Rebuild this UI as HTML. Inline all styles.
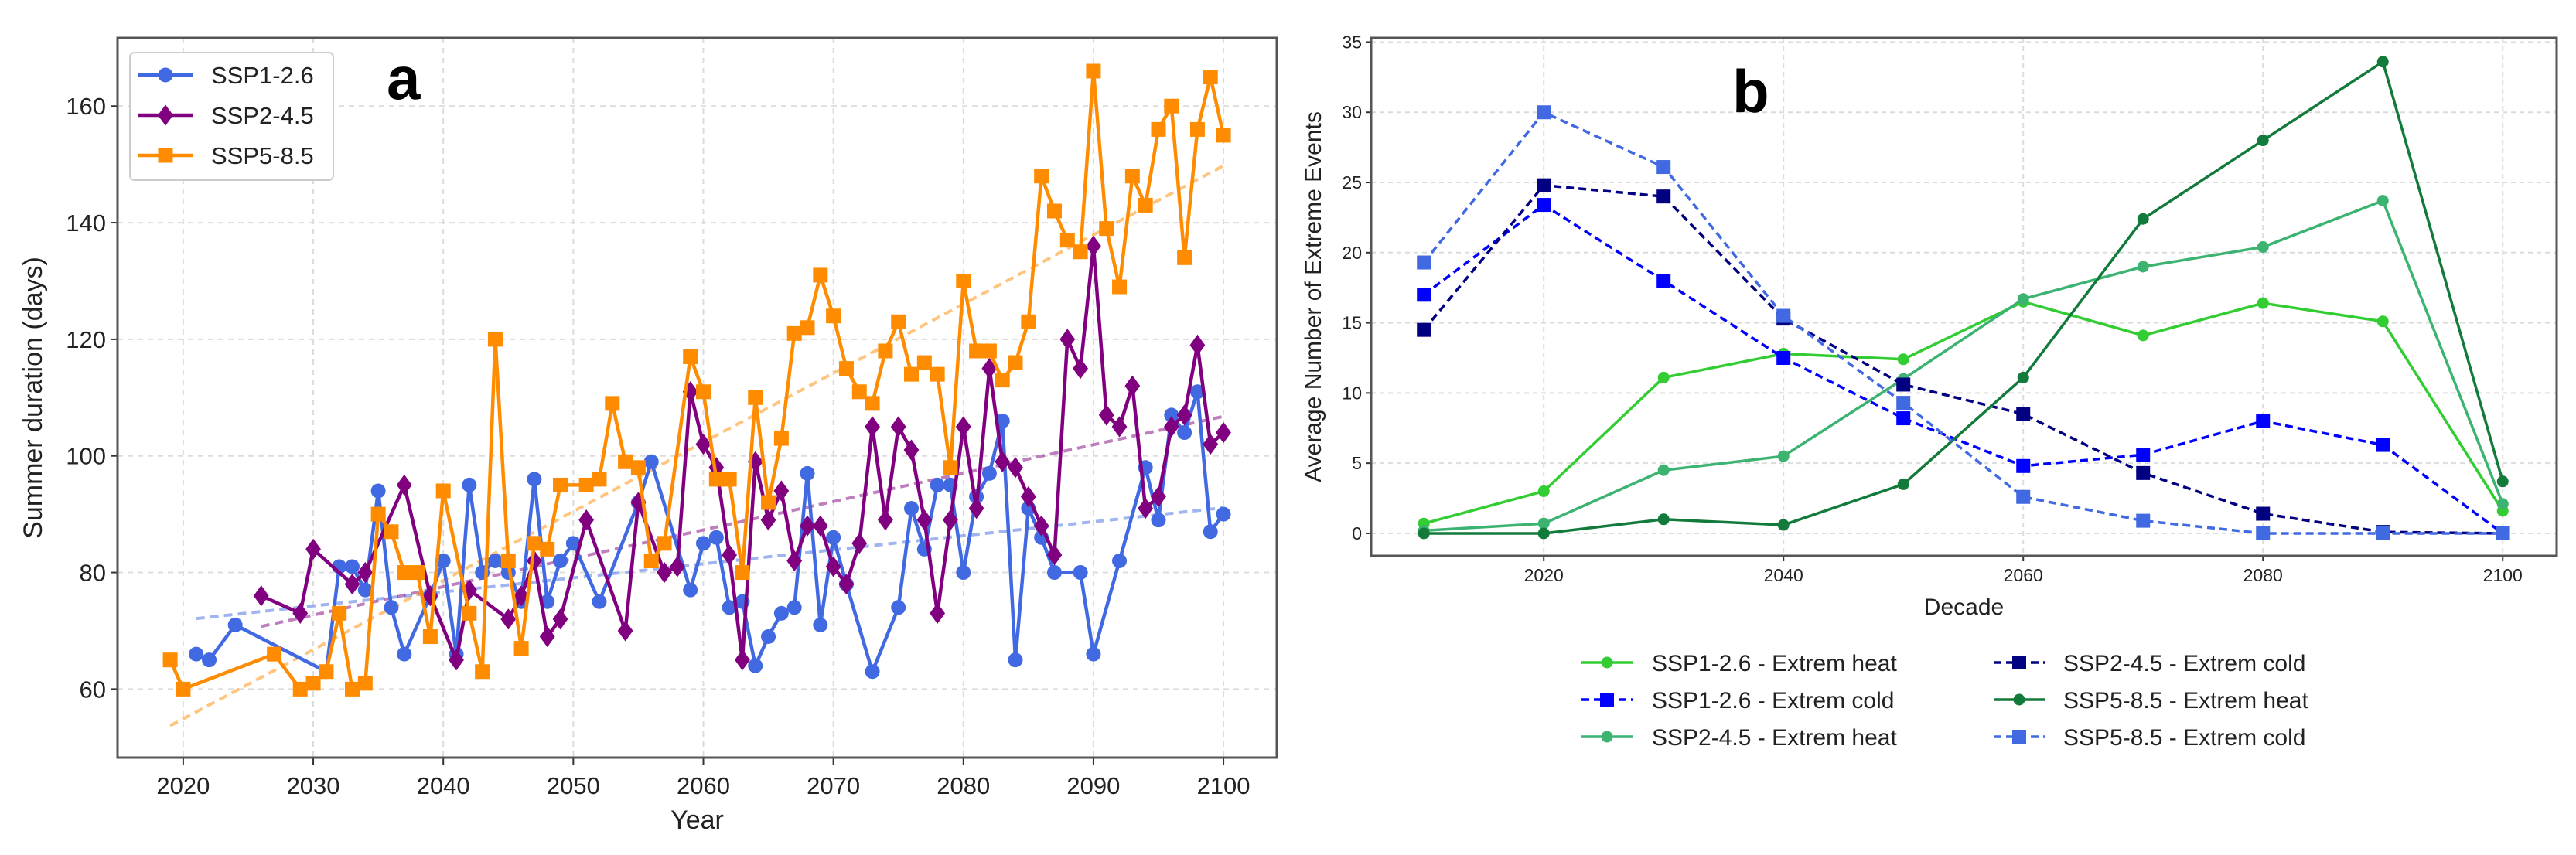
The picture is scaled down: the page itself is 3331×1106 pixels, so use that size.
<!DOCTYPE html>
<html><head><meta charset="utf-8">
<style>
html,body{margin:0;padding:0;background:#fff;}
svg{display:block;font-family:"Liberation Sans","DejaVu Sans",sans-serif;}
</style></head>
<body>
<svg id="fig" width="3331" height="1106" viewBox="0 0 3331 1106" xmlns="http://www.w3.org/2000/svg">
<rect width="3331" height="1106" fill="#fff"/>
<g id="pa"></g>
<g id="pb"></g>
</svg>
<script>
// ---------- Panel A data ----------
const aTicksX = [2020,2030,2040,2050,2060,2070,2080,2090,2100];
const aTicksY = [60,80,100,120,140,160];
const ssp126Years = [2021,2022,2024,2031,2032,2033,2034,2035,2036,2037,2039,2040,2041,2042,2043,2044,2045,2046,2047,2048,2049,2050,2052,2055,2056,2059,2060,2061,2062,2063,2064,2065,2066,2067,2068,2069,2070,2071,2073,2075,2076,2077,2078,2079,2080,2081,2082,2083,2084,2085,2086,2087,2089,2090,2092,2094,2095,2096,2097,2098,2099,2100];
const ssp126Vals = [66,65,71,63,81,81,77,94,74,66,76,82,66,95,80,82,80,75,96,75,82,85,75,92,99,77,85,86,74,75,64,69,73,74,97,71,86,78,63,74,91,84,95,95,80,93,97,106,65,91,86,80,80,66,82,98,89,107,104,111,87,90];
const ssp245Years = [2026,2029,2030,2033,2034,2037,2039,2041,2042,2045,2046,2047,2048,2049,2051,2054,2055,2057,2058,2059,2060,2061,2062,2063,2064,2065,2066,2067,2068,2069,2070,2071,2072,2073,2074,2075,2076,2077,2078,2079,2080,2081,2082,2083,2084,2085,2086,2087,2088,2089,2090,2091,2092,2093,2094,2095,2096,2097,2098,2099,2100];
const ssp245Vals = [76,73,84,78,80,95,76,65,77,72,76,82,69,72,89,70,92,80,81,111,102,98,83,65,99,89,94,82,88,88,81,78,85,105,89,105,101,89,73,89,105,91,115,99,98,93,88,83,120,115,136,107,105,112,91,93,105,107,119,102,104];
const ssp585Years = [2019,2020,2027,2029,2030,2031,2032,2033,2034,2035,2036,2037,2038,2039,2040,2042,2043,2044,2045,2046,2047,2048,2049,2051,2052,2053,2054,2055,2056,2057,2059,2060,2061,2062,2063,2064,2065,2066,2067,2068,2069,2070,2071,2072,2073,2074,2075,2076,2077,2078,2079,2080,2081,2082,2083,2084,2085,2086,2087,2088,2089,2090,2091,2092,2093,2094,2095,2096,2097,2098,2099,2100];
const ssp585Vals = [65,60,66,60,61,63,73,60,61,90,87,80,80,69,94,73,63,120,82,67,85,84,95,95,96,109,99,98,82,85,117,111,96,96,80,110,92,103,121,122,131,124,115,111,109,118,123,114,116,114,98,130,118,118,113,116,123,148,142,137,135,166,139,129,148,143,156,160,134,156,165,155];

// ---------- Panel B data ----------
const decades = [2010,2020,2030,2040,2050,2060,2070,2080,2090,2100];
const bTicksX = [2020,2040,2060,2080,2100];
const bTicksY = [0,5,10,15,20,25,30,35];
const s1Heat = [0.7,3,11.1,12.8,12.4,16.5,14.1,16.4,15.1,1.6];
const s1Cold = [17,23.4,18,12.5,8.2,4.8,5.6,8,6.3,0];
const s2Heat = [0.2,0.7,4.5,5.5,11,16.7,19,20.4,23.7,2.1];
const s2Cold = [14.5,24.8,24,15.3,10.6,8.5,4.3,1.4,0.1,0];
const s5Heat = [0,0,1,0.6,3.5,11.1,22.4,28,33.6,3.7];
const s5Cold = [19.3,30,26.1,15.5,9.3,2.6,0.9,0,0,0];

const NS='http://www.w3.org/2000/svg';
function mk(parent,tag,attrs,name,txt){
  const e=document.createElementNS(NS,tag);
  for(const k in attrs) e.setAttribute(k,attrs[k]);
  
  
  if(txt!==undefined) e.textContent=txt;
  parent.appendChild(e); return e;
}
function marker(g,shape,x,y,s,color,name){
  if(shape==='circle') return mk(g,'circle',{cx:x,cy:y,r:s/2,fill:color},name);
  if(shape==='square') return mk(g,'rect',{x:x-s/2,y:y-s/2,width:s,height:s,fill:color},name);
  if(shape==='diamond') return mk(g,'polygon',{points:`${x},${y-s*0.62} ${x+s*0.45},${y} ${x},${y+s*0.62} ${x-s*0.45},${y}`,fill:color},name);
}
function linreg(xs,ys){
  const n=xs.length; let mx=0,my=0; for(let i=0;i<n;i++){mx+=xs[i];my+=ys[i];} mx/=n;my/=n;
  let sxy=0,sxx=0; for(let i=0;i<n;i++){sxy+=(xs[i]-mx)*(ys[i]-my);sxx+=(xs[i]-mx)**2;}
  const b=sxy/sxx; return [b,my-b*mx];
}

// ---------- Panel A ----------
(function(){
  const g=document.getElementById('pa');
  const L=152,R=1651,T=49,B=980;
  const x0=2014.95,x1=2104.1,y0=48.25,y1=171.7;
  const X=v=>L+(v-x0)/(x1-x0)*(R-L);
  const Y=v=>B-(v-y0)/(y1-y0)*(B-T);
  aTicksX.forEach(t=>{
    mk(g,'line',{x1:X(t),x2:X(t),y1:T,y2:B,stroke:'#dcdcdc','stroke-width':2,'stroke-dasharray':'7 6'},'x-grid-line');
    mk(g,'line',{x1:X(t),x2:X(t),y1:B,y2:B+9,stroke:'#333','stroke-width':2},'x-tick');
    mk(g,'text',{x:X(t),y:B+47,'font-size':31,'text-anchor':'middle',fill:'#222'},'x-tick-label',t);
  });
  aTicksY.forEach(t=>{
    mk(g,'line',{x1:L,x2:R,y1:Y(t),y2:Y(t),stroke:'#dcdcdc','stroke-width':2,'stroke-dasharray':'7 6'},'y-grid-line');
    mk(g,'line',{x1:L-9,x2:L,y1:Y(t),y2:Y(t),stroke:'#333','stroke-width':2},'y-tick');
    mk(g,'text',{x:L-15,y:Y(t)+11,'font-size':31,'text-anchor':'end',fill:'#222'},'y-tick-label',t);
  });
  const series=[
    {n:'ssp1-2.6',xs:ssp126Years,ys:ssp126Vals,c:'#4169e1',m:'circle'},
    {n:'ssp2-4.5',xs:ssp245Years,ys:ssp245Vals,c:'#800080',m:'diamond'},
    {n:'ssp5-8.5',xs:ssp585Years,ys:ssp585Vals,c:'#ff8c00',m:'square'}];
  series.forEach(s=>{
    const [b,a]=linreg(s.xs,s.ys);
    const xa=s.xs[0],xb=s.xs[s.xs.length-1];
    mk(g,'line',{x1:X(xa),y1:Y(a+b*xa),x2:X(xb),y2:Y(a+b*xb),stroke:s.c,'stroke-opacity':0.5,'stroke-width':4,'stroke-dasharray':'11 7'},s.n+'-trend-line');
  });
  series.forEach(s=>{
    const sg=mk(g,'g',{},s.n+'-series');
    mk(sg,'polyline',{points:s.xs.map((v,i)=>X(v)+','+Y(s.ys[i])).join(' '),fill:'none',stroke:s.c,'stroke-width':4.5,'stroke-linejoin':'round'},s.n+'-line');
    s.xs.forEach((v,i)=>marker(sg,s.m,X(v),Y(s.ys[i]),s.m==='diamond'?22:19,s.c,s.n+'-point'));
  });
  mk(g,'rect',{x:L,y:T,width:R-L,height:B-T,fill:'none',stroke:'#555','stroke-width':3},'plot-frame');
  mk(g,'text',{x:(L+R)/2,y:1072,'font-size':34,'text-anchor':'middle',fill:'#222'},'x-axis-title','Year');
  mk(g,'text',{x:0,y:0,'font-size':34,'text-anchor':'middle',fill:'#222',transform:`translate(54,${(T+B)/2}) rotate(-90)`},'y-axis-title','Summer duration (days)');
  mk(g,'text',{x:500,y:128,'font-size':78,'font-weight':'bold',fill:'#000'},'panel-label-a','a');
  const lg=mk(g,'g',{},'legend');
  mk(lg,'rect',{x:168,y:68,width:263,height:165,rx:6,fill:'#fff',stroke:'#ccc','stroke-width':2},'legend-box');
  series.forEach((s,i)=>{
    const y=97+i*52;
    const eg=mk(lg,'g',{},'legend-entry');
    mk(eg,'line',{x1:179,x2:249,y1:y,y2:y,stroke:s.c,'stroke-width':4.5},'legend-line');
    marker(eg,s.m,214,y,s.m==='diamond'?22:19,s.c,'legend-marker');
    mk(eg,'text',{x:273,y:y+11,'font-size':31,fill:'#222'},'legend-label',s.n.toUpperCase());
  });
})();

// ---------- Panel B ----------
(function(){
  const g=document.getElementById('pb');
  const L=1773,R=3306,T=49,B=719;
  const x0=2005.6,x1=2104.5,y0=-1.6,y1=35.3;
  const X=v=>L+(v-x0)/(x1-x0)*(R-L);
  const Y=v=>B-(v-y0)/(y1-y0)*(B-T);
  bTicksX.forEach(t=>{
    mk(g,'line',{x1:X(t),x2:X(t),y1:T,y2:B,stroke:'#dcdcdc','stroke-width':2,'stroke-dasharray':'6 5'},'x-grid-line');
    mk(g,'line',{x1:X(t),x2:X(t),y1:B,y2:B+7,stroke:'#333','stroke-width':2},'x-tick');
    mk(g,'text',{x:X(t),y:B+33,'font-size':23,'text-anchor':'middle',fill:'#222'},'x-tick-label',t);
  });
  bTicksY.forEach(t=>{
    mk(g,'line',{x1:L,x2:R,y1:Y(t),y2:Y(t),stroke:'#dcdcdc','stroke-width':2,'stroke-dasharray':'6 5'},'y-grid-line');
    mk(g,'line',{x1:L-7,x2:L,y1:Y(t),y2:Y(t),stroke:'#333','stroke-width':2},'y-tick');
    mk(g,'text',{x:L-12,y:Y(t)+8,'font-size':23,'text-anchor':'end',fill:'#222'},'y-tick-label',t);
  });
  const series=[
    {n:'SSP1-2.6 - Extrem heat',ys:s1Heat,c:'#32cd32',m:'circle',d:null},
    {n:'SSP1-2.6 - Extrem cold',ys:s1Cold,c:'#0000ff',m:'square',d:'10 6'},
    {n:'SSP2-4.5 - Extrem heat',ys:s2Heat,c:'#3cb371',m:'circle',d:null},
    {n:'SSP2-4.5 - Extrem cold',ys:s2Cold,c:'#000080',m:'square',d:'10 6'},
    {n:'SSP5-8.5 - Extrem heat',ys:s5Heat,c:'#127a3a',m:'circle',d:null},
    {n:'SSP5-8.5 - Extrem cold',ys:s5Cold,c:'#4169e1',m:'square',d:'10 6'}];
  series.forEach(s=>{
    const nm=s.n.toLowerCase().replace(/ - /g,'-').replace(/ /g,'-');
    const sg=mk(g,'g',{},nm+'-series');
    const at={points:decades.map((v,i)=>X(v)+','+Y(s.ys[i])).join(' '),fill:'none',stroke:s.c,'stroke-width':3.5};
    if(s.d) at['stroke-dasharray']=s.d;
    mk(sg,'polyline',at,nm+'-line');
    decades.forEach((v,i)=>marker(sg,s.m,X(v),Y(s.ys[i]),s.m==='square'?18:15,s.c,nm+'-point'));
  });
  mk(g,'rect',{x:L,y:T,width:R-L,height:B-T,fill:'none',stroke:'#555','stroke-width':3},'plot-frame');
  mk(g,'text',{x:(L+R)/2,y:795,'font-size':30,'text-anchor':'middle',fill:'#222'},'x-axis-title','Decade');
  mk(g,'text',{x:0,y:0,'font-size':30,'text-anchor':'middle',fill:'#222',transform:`translate(1708,${(T+B)/2}) rotate(-90)`},'y-axis-title','Average Number of Extreme Events');
  mk(g,'text',{x:2240,y:145,'font-size':78,'font-weight':'bold',fill:'#000'},'panel-label-b','b');
  const lg=mk(g,'g',{},'legend');
  [0,1,2,3,4,5].forEach((k,i)=>{
    const s=series[k];
    const col=i<3?0:1, row=i%3;
    const lx=col?2578:2045, tx=col?2668:2136, y=857+row*48;
    const eg=mk(lg,'g',{},'legend-entry');
    const at={x1:lx,x2:lx+66,y1:y,y2:y,stroke:s.c,'stroke-width':3.5};
    if(s.d) at['stroke-dasharray']=s.d;
    mk(eg,'line',at,'legend-line');
    marker(eg,s.m,lx+33,y,s.m==='square'?18:15,s.c,'legend-marker');
    mk(eg,'text',{x:tx,y:y+11,'font-size':30,fill:'#222'},'legend-label',s.n);
  });
})();
</script>
</body></html>
